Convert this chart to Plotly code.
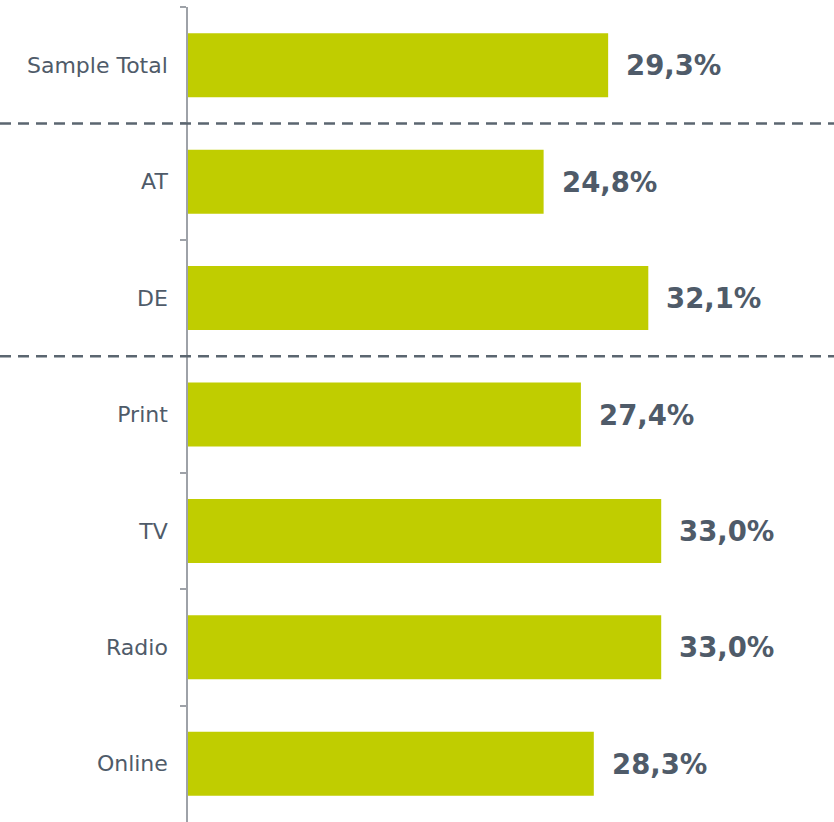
import plotly.graph_objects as go

categories = ["Sample Total", "AT", "DE", "Print", "TV", "Radio", "Online"]
values = [29.3, 24.8, 32.1, 27.4, 33.0, 33.0, 28.3]
value_labels = ["29,3%", "24,8%", "32,1%", "27,4%", "33,0%", "33,0%", "28,3%"]
separators_after = ["Sample Total", "DE"]

BAR = "#c0cd00"
TXT = "#4f5b69"
AXIS = "#9ea2a8"

W, H = 834, 822
L = 188

fig = go.Figure()
fig.add_trace(go.Bar(
    x=values, y=categories, orientation="h",
    marker=dict(color=BAR, line=dict(width=0)),
    hoverinfo="skip",
))

for c, v, t in zip(categories, values, value_labels):
    fig.add_annotation(x=v, y=c, text="<b>%s</b>" % t, showarrow=False,
                       xanchor="left", yanchor="middle", xshift=16,
                       font=dict(family="DejaVu Sans, Verdana", size=27.5, color=TXT))

for s in separators_after:
    idx = categories.index(s) + 0.5
    fig.add_shape(type="line", xref="paper", yref="y",
                  x0=-L / (W - L), x1=1, y0=idx, y1=idx,
                  line=dict(color="#5b6670", width=2.5, dash="11px,7px"),
                  layer="above")

fig.update_layout(
    width=W, height=H,
    margin=dict(l=L, r=0, t=7, b=0, autoexpand=False),
    paper_bgcolor="white", plot_bgcolor="white",
    showlegend=False,
    bargap=0.45,
    xaxis=dict(range=[0, 45.05], visible=False, fixedrange=True),
    yaxis=dict(
        autorange="reversed",
        showline=True, linecolor=AXIS, linewidth=1.5,
        ticks="outside", tickson="boundaries", ticklen=6, tickcolor=AXIS, tickwidth=1.5,
        tickfont=dict(family="DejaVu Sans, Verdana", size=22, color=TXT),
        ticklabelstandoff=14,
        showgrid=False, zeroline=False, fixedrange=True,
    ),
)

fig.write_html("out.html", config={"displayModeBar": False},
               post_script="document.body.style.margin='0';")
